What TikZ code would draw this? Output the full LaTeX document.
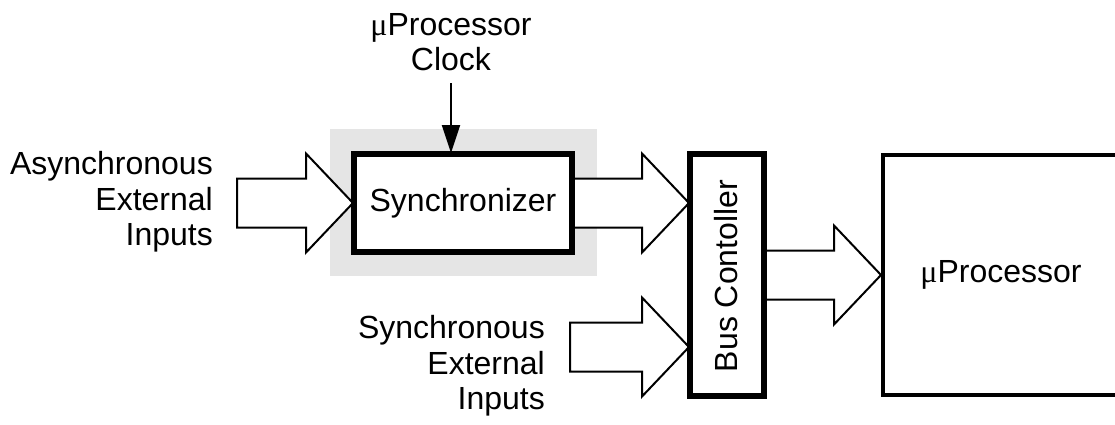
\documentclass[tikz,border=0pt]{standalone}
\usepackage{fontspec}
\setmainfont{Liberation Sans}
\newfontfamily\greekmu{Liberation Serif}
\usetikzlibrary{arrows.meta,calc}
\newcommand{\mup}{{\greekmu μ}Processor}
\tikzset{
  every node/.style={font=\fontsize{32}{35.5}\selectfont, inner sep=0pt},
  block/.style={draw, line width=4pt, fill=white, rectangle},
  fatarrow/.style={draw, line width=2pt, fill=white, line join=miter},
  label/.style={align=right, anchor=east},
}
% block arrow: #1 tail point, #2 tip point (horizontal)
\newcommand{\fatarrow}[2]{%
  \path[fatarrow] let \p1=#1, \p2=#2 in
    (\x1,\y2+24.5pt) -- (\x2-47pt,\y2+24.5pt) -- (\x2-47pt,\y2+49.5pt) --
    (\x2,\y2) -- (\x2-47pt,\y2-49.5pt) -- (\x2-47pt,\y2-24.5pt) --
    (\x1,\y2-24.5pt) -- cycle;}
\begin{document}
\begin{tikzpicture}[x=1pt,y=-1pt]
  \useasboundingbox (0,0) rectangle (1115,424);

  % shaded area around the synchronizer
  \node[fill=gray!20, minimum width=267pt, minimum height=147pt] (area) at (463.5,202.5) {};

  % blocks
  \node[block, minimum width=216pt, minimum height=96pt] (sync) at (463,203) {};
  \node[block, minimum width=72pt, minimum height=240pt] (bus) at (727,275) {};
  \node[block, minimum width=236pt, minimum height=240pt] (proc) at (1001,275) {};

  % free ends of the input arrows and the clock line
  \coordinate (asyncin) at (237,203);
  \coordinate (syncin) at (570,347);
  \coordinate (clk) at (451,83);

  % block arrows
  \fatarrow{(asyncin)}{(sync.west)}
  \fatarrow{(sync.east)}{($(bus.west)+(0,-72)$)}
  \fatarrow{(syncin)}{($(bus.west)+(0,72)$)}
  \fatarrow{(bus.east)}{(proc.west)}

  % redraw block outlines over the arrow tails
  \draw[line width=4pt] (sync.south west) rectangle (sync.north east);
  \draw[line width=4pt] (bus.south west) rectangle (bus.north east);

  % texts
  \node at (sync.center) {Synchronizer};
  \node[rotate=90] at ($(bus.center)+(-1,1)$) {Bus Contoller};
  \node at (proc.center) {\mup};

  \draw[line width=2pt, -{Triangle[width=18pt,length=28pt]}] (clk) -- (clk |- sync.north);
  \node[align=center] (clklabel) at (451,42) {\mup\\Clock};

  \node[label] (asynclabel) at (213,202) {Asynchronous\\External\\Inputs};
  \node[label] (synclabel) at (545,366) {Synchronous\\External\\Inputs};
\end{tikzpicture}
\end{document}
